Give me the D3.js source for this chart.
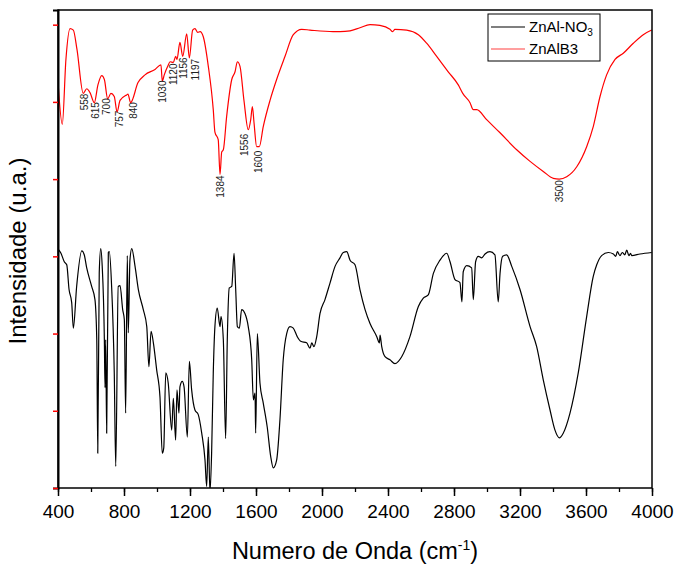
<!DOCTYPE html>
<html>
<head>
<meta charset="utf-8">
<script src="https://cdn.jsdelivr.net/npm/d3@7"></script>
<style>
  body { margin: 0; background: #fff; }
  text { font-family: "Liberation Sans", Arial, sans-serif; }
</style>
</head>
<body>
<script>
// FTIR spectra, wavenumber (cm-1) vs intensity (arbitrary units)
const seriesNames = ["ZnAl-NO3", "ZnAlB3"];
const seriesColors = ["#000000", "#ff0000"];

const nitrateWn = [402, 418, 438, 453, 467, 483, 493, 513, 544, 559, 574, 604, 624, 635, 641, 650, 659, 668, 681, 685,
  689, 695, 705, 711, 725, 741, 750, 765, 776, 792, 802, 810, 820, 826, 836, 847, 867, 887, 917, 938,
  951, 964, 978, 998, 1018, 1032, 1041, 1053, 1068, 1089, 1099, 1113, 1121, 1133, 1139, 1153, 1164, 1184, 1196, 1210,
  1230, 1250, 1271, 1291, 1301, 1311, 1321, 1331, 1341, 1351, 1365, 1382, 1388, 1402, 1416, 1426, 1438, 1453, 1467, 1477,
  1487, 1499, 1513, 1533, 1553, 1574, 1584, 1594, 1598, 1608, 1624, 1644, 1668, 1689, 1705, 1725, 1745, 1765, 1786, 1806,
  1826, 1850, 1871, 1907, 1927, 1938, 1951, 1968, 1988, 2018, 2048, 2079, 2109, 2129, 2150, 2170, 2200, 2230, 2261, 2291,
  2332, 2348, 2352, 2362, 2382, 2412, 2442, 2483, 2533, 2584, 2614, 2644, 2675, 2715, 2756, 2776, 2806, 2836, 2848, 2856,
  2877, 2907, 2917, 2931, 2947, 2968, 2988, 3018, 3048, 3068, 3079, 3095, 3119, 3150, 3200, 3261, 3301, 3341, 3382, 3412,
  3438, 3462, 3503, 3553, 3604, 3644, 3665, 3695, 3735, 3766, 3780, 3790, 3806, 3820, 3835, 3847, 3860, 3870, 3877, 3927,
  3998];
const nitrateVal = [3.09, 3.04, 2.93, 2.89, 2.57, 2.40, 2.07, 2.61, 3.07, 3.02, 2.85, 2.61, 2.44, 1.92, 0.45, 2.79, 3.10, 2.87, 1.92, 1.30,
  1.92, 0.71, 3.05, 3.06, 2.61, 1.49, 0.28, 2.61, 2.62, 2.31, 2.18, 0.97, 3.01, 2.01, 2.95, 3.10, 2.87, 2.57, 2.31, 2.09,
  1.57, 2.03, 1.88, 1.53, 1.18, 0.45, 0.52, 1.49, 1.36, 0.75, 1.16, 0.62, 1.27, 0.97, 1.31, 1.38, 1.31, 0.66, 1.64, 1.27,
  1.01, 0.95, 0.71, 0.36, 0.02, 0.66, -0.05, 0.45, 1.49, 2.09, 2.33, 2.09, 2.22, 1.92, 0.64, 1.92, 2.59, 2.61, 3.04, 2.57,
  2.09, 2.07, 2.31, 2.26, 2.09, 1.66, 1.14, 1.23, 0.71, 2.00, 1.36, 1.10, 0.79, 0.41, 0.26, 0.36, 0.88, 1.66, 2.00, 2.09,
  2.07, 1.96, 1.90, 1.88, 1.81, 1.88, 1.83, 1.96, 2.26, 2.44, 2.65, 2.87, 2.98, 3.05, 3.06, 2.95, 2.89, 2.57, 2.31, 2.13,
  1.96, 1.88, 1.98, 1.83, 1.70, 1.66, 1.61, 1.70, 1.96, 2.35, 2.46, 2.50, 2.78, 2.95, 3.04, 2.93, 2.70, 2.66, 2.41, 2.80,
  2.88, 2.85, 2.44, 2.93, 3.00, 2.98, 3.03, 3.06, 3.02, 2.41, 2.78, 3.00, 3.02, 2.87, 2.57, 2.09, 1.83, 1.40, 1.01, 0.75,
  0.65, 0.71, 0.97, 1.49, 2.22, 2.74, 2.89, 3.01, 3.05, 3.03, 3.00, 3.06, 3.01, 3.05, 3.02, 3.08, 3.01, 3.04, 3.01, 3.03,
  3.05];

const borateWn = [402, 426, 448, 473, 493, 515, 553, 574, 594, 620, 642, 665, 681, 701, 721, 741, 758, 776, 816, 824,
  840, 885, 927, 988, 1024, 1032, 1044, 1067, 1079, 1099, 1113, 1121, 1139, 1156, 1180, 1196, 1216, 1230, 1247, 1261,
  1281, 1311, 1341, 1351, 1371, 1382, 1392, 1402, 1422, 1453, 1473, 1487, 1503, 1527, 1553, 1568, 1578, 1588, 1604, 1620,
  1644, 1685, 1725, 1776, 1826, 1877, 1927, 2067, 2109, 2170, 2230, 2291, 2351, 2412, 2428, 2442, 2513, 2584, 2634, 2695,
  2765, 2826, 2853, 2897, 2917, 2938, 2998, 3079, 3180, 3261, 3341, 3402, 3438, 3483, 3544, 3604, 3644, 3685, 3725, 3776,
  3826, 3887, 3947, 3998];
const borateVal = [5.20, 4.71, 5.55, 5.95, 5.93, 5.68, 5.11, 5.17, 5.12, 4.99, 5.22, 5.34, 5.29, 5.04, 5.11, 5.07, 4.87, 5.02, 5.09, 5.10,
  4.99, 5.25, 5.35, 5.42, 5.48, 5.27, 5.35, 5.47, 5.52, 5.51, 5.59, 5.55, 5.77, 5.59, 5.88, 5.57, 5.93, 5.95, 5.90, 5.91,
  5.84, 5.46, 4.90, 4.61, 4.51, 4.06, 4.35, 4.38, 4.81, 5.29, 5.39, 5.52, 5.46, 5.02, 4.64, 4.77, 4.94, 4.73, 4.42, 4.42,
  4.68, 5.02, 5.29, 5.59, 5.87, 5.94, 5.93, 5.91, 5.91, 5.92, 5.96, 6.00, 5.99, 5.94, 5.91, 5.94, 5.93, 5.87, 5.76, 5.59,
  5.39, 5.22, 5.11, 4.99, 4.90, 4.90, 4.77, 4.60, 4.38, 4.23, 4.10, 4.01, 4.00, 4.03, 4.16, 4.42, 4.68, 5.07, 5.35, 5.55,
  5.63, 5.76, 5.87, 5.93];

// peak annotations on the ZnAlB3 curve
const peakText = ["558", "615", "700", "757", "840", "1030", "1120", "1156", "1197", "1384", "1556", "1600", "3500"];
const peakWn = [559, 630, 695, 771, 856, 1032, 1099, 1158, 1236, 1382, 1533, 1618, 3438];
const peakVal = [5.12, 5.01, 5.06, 4.90, 5.01, 5.29, 5.51, 5.59, 5.57, 4.06, 4.60, 4.38, 4.00];

const xTicks = [400, 800, 1200, 1600, 2000, 2400, 2800, 3200, 3600, 4000];
const yTicks = [0, 1, 2, 3, 4, 5, 6];

const width = 676, height = 566;
const margin = {top: 10, right: 24, bottom: 78, left: 58};
const plotW = width - margin.left - margin.right;
const plotH = height - margin.top - margin.bottom;

const svg = d3.select("body")
  .append("svg")
  .attr("width", width)
  .attr("height", height);

const x = d3.scaleLinear().domain([400, 4000]).range([0, plotW]);
const y = d3.scaleLinear().domain([0, 6.19]).range([plotH, 0]);

const g = svg.append("g")
  .attr("transform", `translate(${margin.left},${margin.top})`);

g.append("clipPath").attr("id", "clip")
  .append("rect").attr("width", plotW).attr("height", plotH);

const line = d3.line()
  .curve(d3.curveMonotoneX)
  .x(d => x(d[0]))
  .y(d => y(d[1]));

const series = [
  d3.zip(nitrateWn, nitrateVal),
  d3.zip(borateWn, borateVal)
];

series.forEach((pts, i) => {
  g.append("path")
    .datum(pts)
    .attr("clip-path", "url(#clip)")
    .attr("fill", "none")
    .attr("stroke", seriesColors[i])
    .attr("stroke-width", 1.2)
    .attr("stroke-linejoin", "round")
    .attr("d", line);
});

// peak labels, rotated
peakText.forEach((t, i) => {
  g.append("text")
    .attr("transform", `translate(${x(peakWn[i]) + 3.5},${y(peakVal[i]) + 1}) rotate(-90)`)
    .attr("text-anchor", "end")
    .attr("font-size", 10)
    .attr("fill", "#222")
    .text(t);
});

// frame
g.append("rect")
  .attr("width", plotW)
  .attr("height", plotH)
  .attr("fill", "none")
  .attr("stroke", "#000")
  .attr("stroke-width", 1.5);

// bottom axis with minor ticks
const xAxis = g.append("g")
  .attr("transform", `translate(0,${plotH})`)
  .call(d3.axisBottom(x).tickValues(d3.range(400, 4001, 200)).tickSize(4).tickFormat(""));
xAxis.select(".domain").remove();
xAxis.selectAll("line").attr("stroke-width", 1.3);

const xMajor = g.append("g")
  .attr("transform", `translate(0,${plotH})`)
  .call(d3.axisBottom(x).tickValues(xTicks).tickSize(8).tickPadding(9).tickFormat(d3.format("d")));
xMajor.select(".domain").remove();
xMajor.selectAll("line").attr("stroke-width", 1.5);
xMajor.selectAll("text")
  .attr("font-size", 19)
  .attr("fill", "#000")
  .style("font-family", "'Liberation Sans', Arial, sans-serif");

// left axis: red ticks, no labels
const yAxis = g.append("g")
  .call(d3.axisLeft(y).tickValues(yTicks).tickSize(5).tickFormat(""));
yAxis.select(".domain").attr("stroke", "#000").attr("stroke-width", 2);
yAxis.selectAll("line").attr("stroke", "#ff0000").attr("stroke-width", 1.5);

// axis titles
const xTitle = svg.append("text")
  .attr("x", margin.left + plotW / 2)
  .attr("y", 559)
  .attr("text-anchor", "middle")
  .attr("font-size", 23.5);
xTitle.append("tspan").text("Numero de Onda (cm");
xTitle.append("tspan").attr("dy", -9).attr("font-size", 14).text("-1");
xTitle.append("tspan").attr("dy", 9).text(")");

svg.append("text")
  .attr("transform", `translate(26,${margin.top + plotH / 2 + 2}) rotate(-90)`)
  .attr("text-anchor", "middle")
  .attr("font-size", 24)
  .text("Intensidade (u.a.)");

// legend
const legend = svg.append("g").attr("transform", "translate(488,14)");
legend.append("rect")
  .attr("width", 112).attr("height", 47)
  .attr("fill", "#fff").attr("stroke", "#000").attr("stroke-width", 1);

seriesNames.forEach((name, i) => {
  const row = legend.append("g").attr("transform", `translate(0,${13 + i * 22})`);
  row.append("line")
    .attr("x1", 3).attr("x2", 37)
    .attr("stroke", seriesColors[i])
    .attr("stroke-opacity", i === 1 ? 0.75 : 1)
    .attr("stroke-width", 1.2);
  const t = row.append("text")
    .attr("x", 41).attr("y", 5)
    .attr("font-size", 15);
  if (name === "ZnAl-NO3") {
    t.append("tspan").text("ZnAl-NO");
    t.append("tspan").attr("dy", 4).attr("font-size", 10).text("3");
  } else {
    t.text(name);
  }
});
</script>
</body>
</html>
